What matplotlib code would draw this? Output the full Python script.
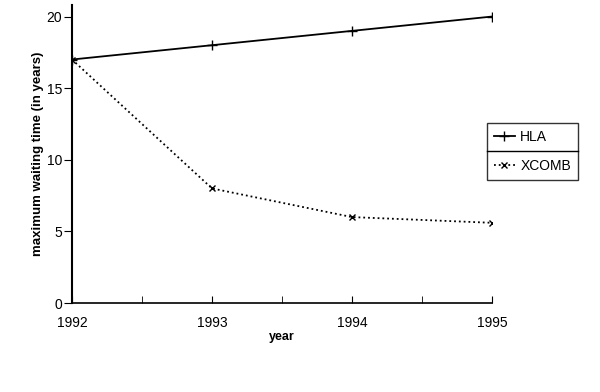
import matplotlib
matplotlib.use('Agg')
import matplotlib.pyplot as plt
from matplotlib.ticker import MultipleLocator

years = [1992, 1993, 1994, 1995]
hla = [17, 18, 19, 20]
xcomb = [17, 8, 6, 5.6]

plt.rcParams['font.family'] = ['Liberation Sans', 'DejaVu Sans']

fig = plt.figure(figsize=(6, 3.92), dpi=100)
ax = fig.add_axes([0.12, 0.227, 0.70, 0.76])

ax.plot(years, hla, color='black', lw=1.3, marker='+', ms=7, mew=1.0, label='HLA')
ax.plot(years, xcomb, color='black', lw=1.3, ls=':', marker='x', ms=5, mew=1.0, label='XCOMB')

ax.set_xlim(1992, 1995)
ax.set_ylim(0, 20.8)
ax.set_xticks(years)
ax.set_xticklabels([str(y) for y in years])
ax.xaxis.set_minor_locator(MultipleLocator(0.5))
ax.set_yticks([0, 5, 10, 15, 20])

ax.spines['top'].set_visible(False)
ax.spines['right'].set_visible(False)
ax.spines['left'].set_linewidth(1.5)
ax.spines['bottom'].set_linewidth(1.2)
ax.tick_params(axis='y', direction='out', length=6, labelsize=10, pad=1)
ax.tick_params(axis='x', which='both', direction='in', length=5, labelsize=10, pad=9)

ax.set_xlabel('year', fontsize=9, fontweight='bold', labelpad=1)
ax.set_ylabel('maximum waiting time (in years)', fontsize=9.5, fontweight='bold', labelpad=2)

leg = ax.legend(loc='upper left', bbox_to_anchor=(0.988, 0.605), fontsize=10,
                frameon=True, fancybox=False, edgecolor='black', handlelength=1.5,
                borderpad=0.5, labelspacing=1.1, handletextpad=0.4, borderaxespad=0)
leg.get_frame().set_linewidth(1.0)
leg.set_clip_on(False)

# separator line between the two legend rows
fig.canvas.draw()
bb = leg.get_window_extent().transformed(fig.transFigure.inverted())
ymid = (bb.y0 + bb.y1) / 2
fig.add_artist(plt.Line2D([bb.x0, bb.x1], [ymid, ymid], color='black', lw=1.0,
                          transform=fig.transFigure))

fig.savefig('out.png', dpi=100)
